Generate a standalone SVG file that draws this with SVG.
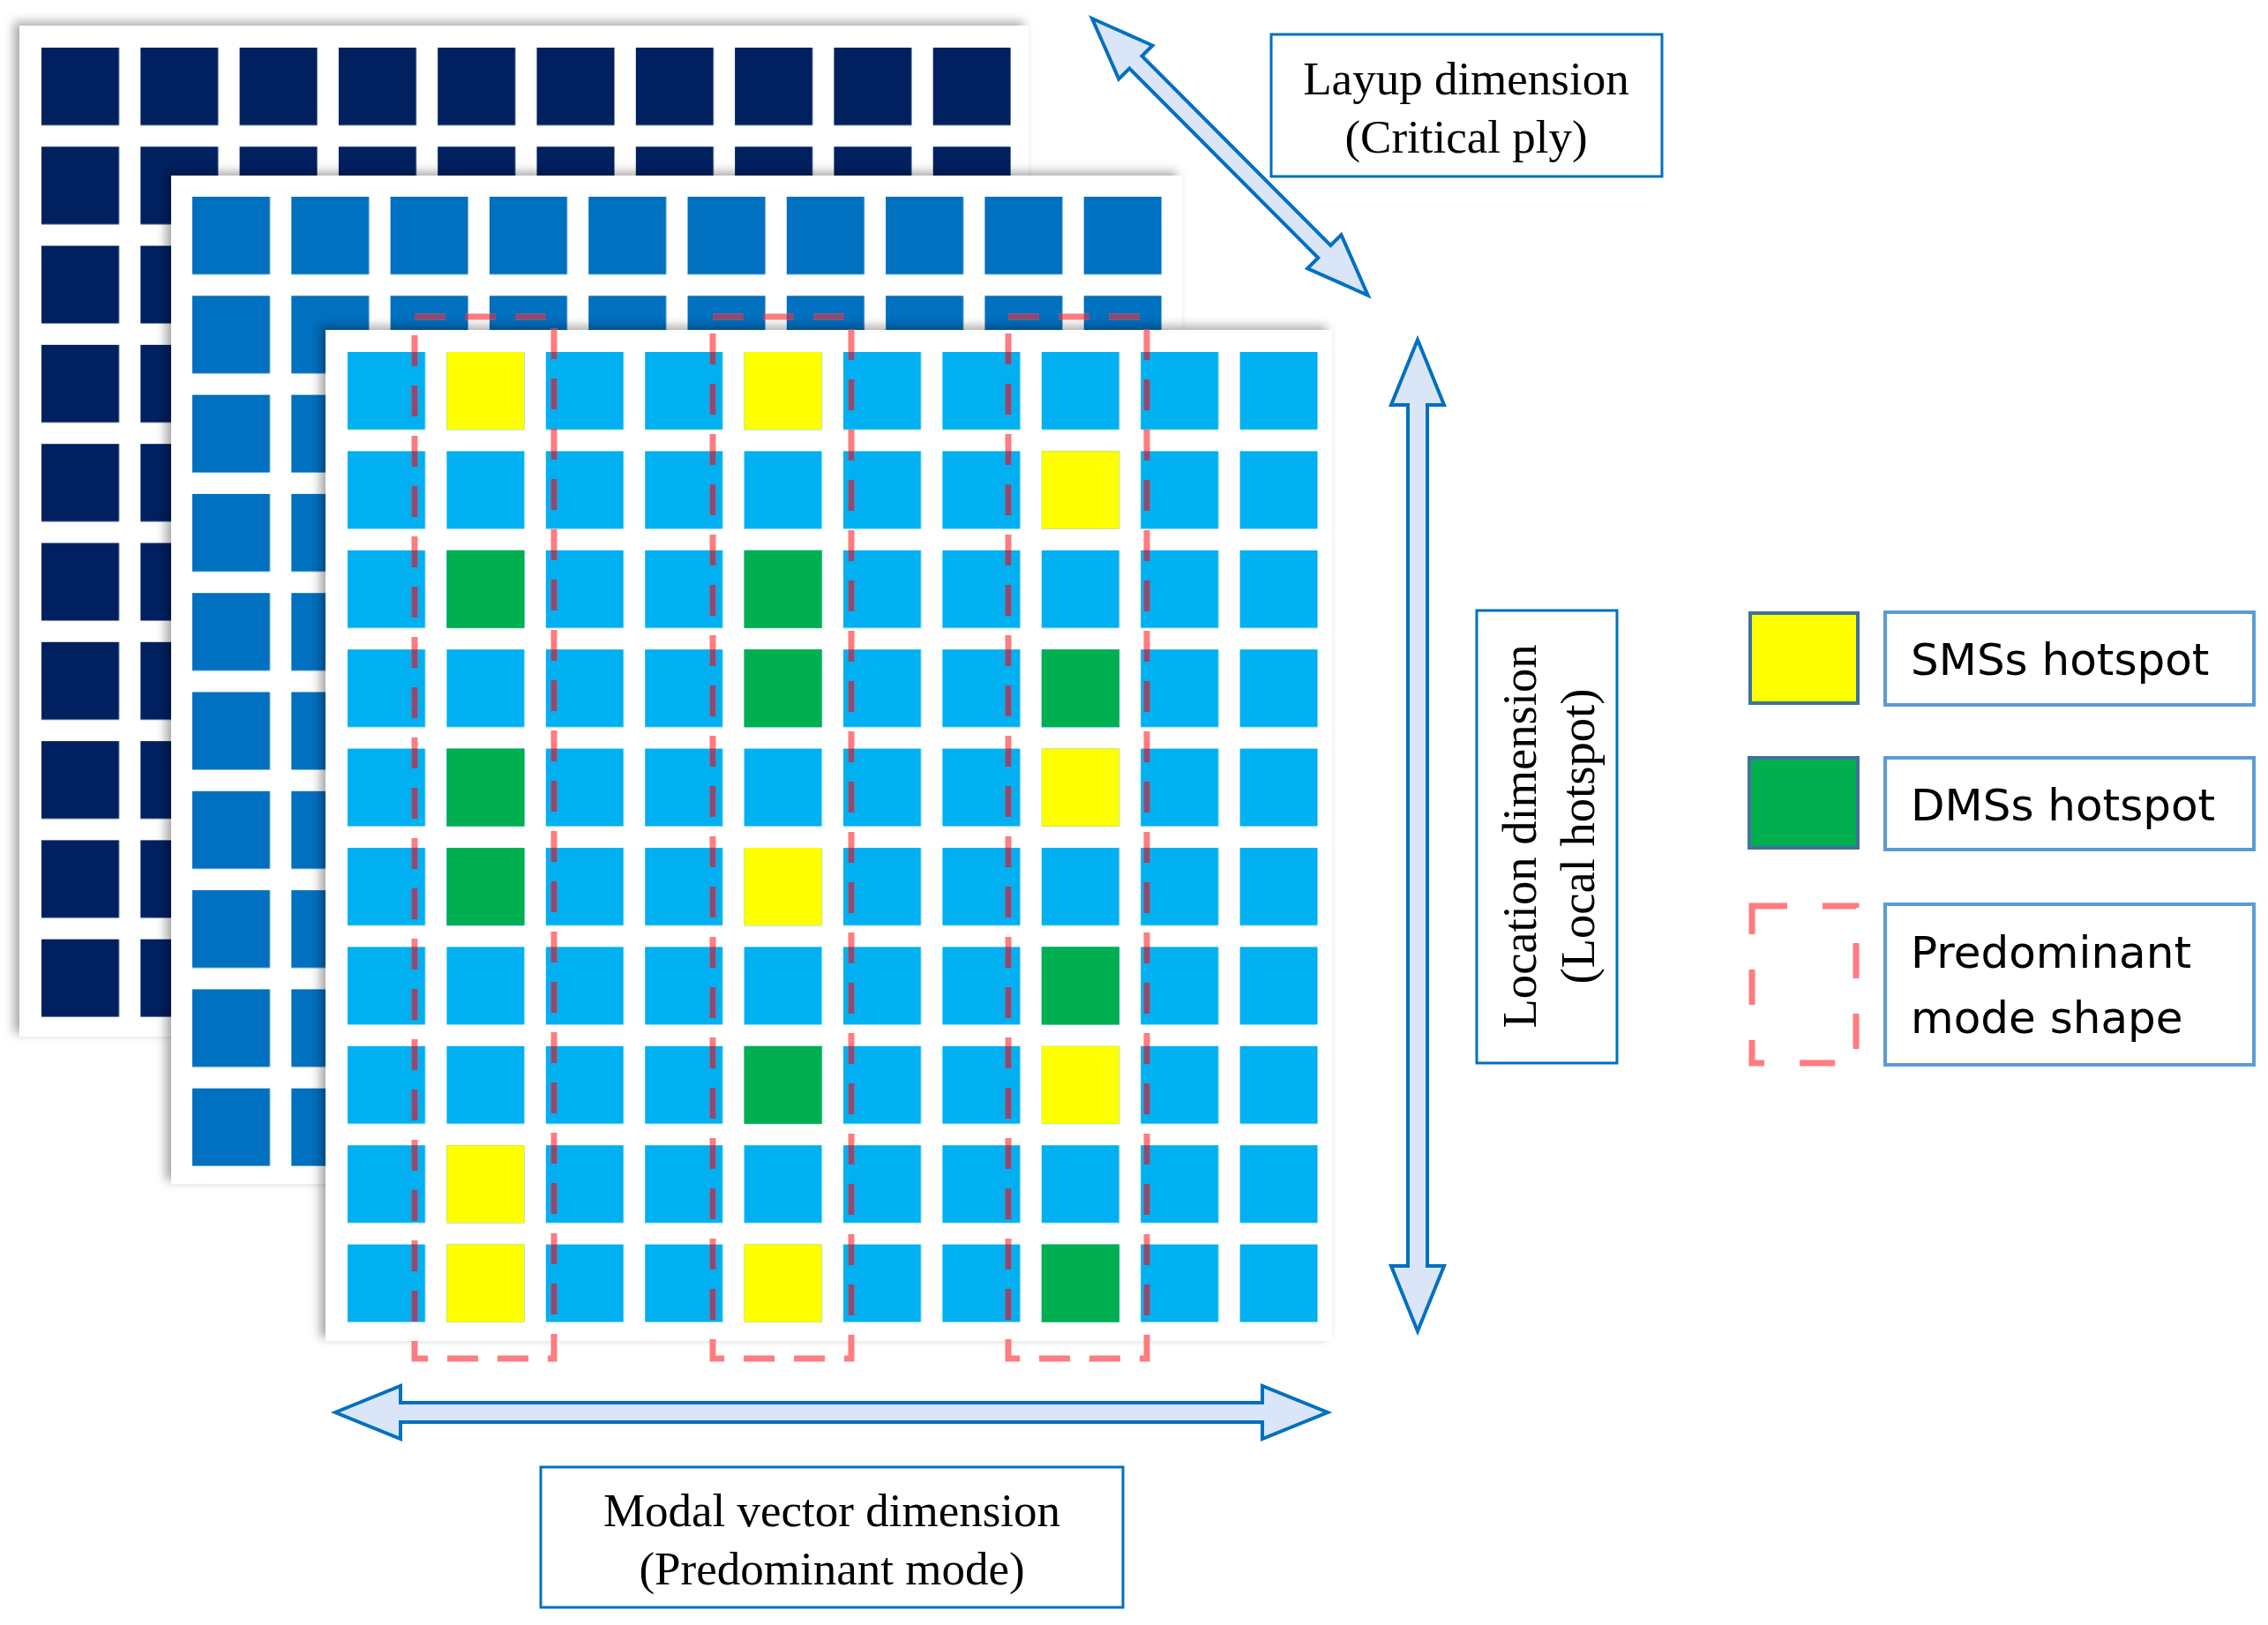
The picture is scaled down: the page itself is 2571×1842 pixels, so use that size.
<svg xmlns="http://www.w3.org/2000/svg" width="2571" height="1842" viewBox="0 0 2571 1842">
<style>
.panel{fill:#fff;filter:url(#sh)}
.arr{fill:#DAE6F7;stroke:#0070C0;stroke-width:4;stroke-linejoin:miter}
.box{fill:#fff;stroke:#0070C0;stroke-width:3}
.lbox{fill:#fff;stroke:#5B9BD5;stroke-width:4}
.serif{font-family:"Liberation Serif","Times New Roman",serif;font-size:53px;fill:#000;text-anchor:middle}
.sans{font-family:"DejaVu Sans","Noto Sans",sans-serif;font-size:50px;fill:#000}
.dash{fill:none;stroke:#FF7C80;stroke-width:7;stroke-dasharray:35 22}
.dashp{fill:none;stroke:#8A4C74;stroke-width:7;stroke-dasharray:35 22}
.Y{fill:#FFFF00}.G{fill:#00B050}
</style>
<defs>
<filter id="sh" x="-5%" y="-5%" width="110%" height="110%"><feDropShadow dx="-6" dy="-4" stdDeviation="6" flood-color="#000" flood-opacity="0.35"/></filter>
<pattern id="pN" patternUnits="userSpaceOnUse" x="47" y="54" width="112.3" height="112.3"><rect width="88" height="88" fill="#002060"/></pattern>
<pattern id="pM" patternUnits="userSpaceOnUse" x="218" y="223" width="112.3" height="112.3"><rect width="88" height="88" fill="#0070C0"/></pattern>
<pattern id="pF" patternUnits="userSpaceOnUse" x="394" y="399" width="112.4" height="112.4"><rect width="88" height="88" fill="#00B0F0"/></pattern>
<pattern id="pMW" patternUnits="userSpaceOnUse" x="218" y="223" width="112.3" height="112.3"><rect width="88" height="88" fill="#fff"/></pattern>
<pattern id="pFW" patternUnits="userSpaceOnUse" x="394" y="399" width="112.4" height="112.4"><rect width="88" height="88" fill="#fff"/></pattern>
<mask id="sq" maskUnits="userSpaceOnUse" x="0" y="0" width="2571" height="1842">
<rect x="394" y="399" width="1100" height="1100" fill="url(#pFW)"/>
<rect x="218" y="335" width="1120" height="39" fill="url(#pMW)"/>
</mask>
</defs>
<g id="layer-back">
<rect class="panel" x="22" y="29" width="1144" height="1146"/>
<rect x="47" y="54" width="1099" height="1099" fill="url(#pN)"/>
</g>
<g id="layer-middle">
<rect class="panel" x="194" y="199" width="1146" height="1143"/>
<rect x="218" y="223" width="1099" height="1099" fill="url(#pM)"/>
</g>
<g id="layer-front">
<rect class="panel" x="369" y="374" width="1141" height="1146"/>
<rect x="394" y="399" width="1100" height="1100" fill="url(#pF)"/>
<rect class="Y" x="506.4" y="399" width="88" height="88"/>
<rect class="Y" x="843.6" y="399" width="88" height="88"/>
<rect class="Y" x="1180.8" y="511.4" width="88" height="88"/>
<rect class="G" x="506.4" y="623.8" width="88" height="88"/>
<rect class="G" x="843.6" y="623.8" width="88" height="88"/>
<rect class="G" x="843.6" y="736.2" width="88" height="88"/>
<rect class="G" x="1180.8" y="736.2" width="88" height="88"/>
<rect class="G" x="506.4" y="848.6" width="88" height="88"/>
<rect class="Y" x="1180.8" y="848.6" width="88" height="88"/>
<rect class="G" x="506.4" y="961" width="88" height="88"/>
<rect class="Y" x="843.6" y="961" width="88" height="88"/>
<rect class="G" x="1180.8" y="1073.4" width="88" height="88"/>
<rect class="G" x="843.6" y="1185.8" width="88" height="88"/>
<rect class="Y" x="1180.8" y="1185.8" width="88" height="88"/>
<rect class="Y" x="506.4" y="1298.2" width="88" height="88"/>
<rect class="Y" x="506.4" y="1410.6" width="88" height="88"/>
<rect class="Y" x="843.6" y="1410.6" width="88" height="88"/>
<rect class="G" x="1180.8" y="1410.6" width="88" height="88"/>
</g>
<g id="mode-shapes">
<rect class="dash" x="470" y="359" width="158" height="1181"/>
<rect class="dash" x="808" y="359" width="157" height="1181"/>
<rect class="dash" x="1143" y="359" width="157" height="1181"/>
<g mask="url(#sq)">
<rect class="dashp" x="470" y="359" width="158" height="1181"/>
<rect class="dashp" x="808" y="359" width="157" height="1181"/>
<rect class="dashp" x="1143" y="359" width="157" height="1181"/>
</g>
</g>
<g id="connectors">
<polygon class="arr" transform="translate(1238,21) rotate(45.1)" points="0,0 70,-27 70,-10 373,-10 373,-27 443,0 373,27 373,10 70,10 70,27"/>
<polygon class="arr" points="1607,385 1637,459 1618,459 1618,1435 1637,1435 1607,1509 1577,1435 1596,1435 1596,459 1577,459"/>
<polygon class="arr" points="380,1601 454,1571 454,1590 1431,1590 1431,1571 1505,1601 1431,1631 1431,1612 454,1612 454,1631"/>
</g>
<g id="label-layup">
<rect class="box" x="1441" y="39" width="443" height="161"/>
<text class="serif" x="1662" y="107">Layup dimension</text>
<text class="serif" x="1662" y="173">(Critical ply)</text>
</g>
<g id="label-location">
<rect class="box" x="1674" y="692" width="159" height="513"/>
<g transform="translate(1753,948) rotate(-90)">
<text class="serif" x="0" y="-12" textLength="435" lengthAdjust="spacingAndGlyphs" style="font-size:54px">Location dimension</text>
<text class="serif" x="0" y="54" textLength="335" lengthAdjust="spacingAndGlyphs" style="font-size:54px">(Local hotspot)</text>
</g>
</g>
<g id="label-modal">
<rect class="box" x="613" y="1663" width="660" height="159"/>
<text class="serif" x="943" y="1730">Modal vector dimension</text>
<text class="serif" x="943" y="1796">(Predominant mode)</text>
</g>
<g id="legend-sms">
<rect x="1984" y="695" width="122" height="102" fill="#FFFF00" stroke="#41719C" stroke-width="4"/>
<rect class="lbox" x="2137" y="694" width="418" height="105"/>
<text class="sans" x="2166" y="765">SMSs hotspot</text>
</g>
<g id="legend-dms">
<rect x="1983" y="859" width="123" height="102" fill="#00B050" stroke="#41719C" stroke-width="4"/>
<rect class="lbox" x="2137" y="859" width="418" height="104"/>
<text class="sans" x="2166" y="930">DMSs hotspot</text>
</g>
<g id="legend-mode">
<rect x="1986" y="1027" width="118" height="178" fill="none" stroke="#FF7C80" stroke-width="7" stroke-dasharray="40 40"/>
<rect class="lbox" x="2137" y="1025" width="418" height="182"/>
<text class="sans" x="2166" y="1097">Predominant</text>
<text class="sans" x="2166" y="1171">mode shape</text>
</g>
</svg>
